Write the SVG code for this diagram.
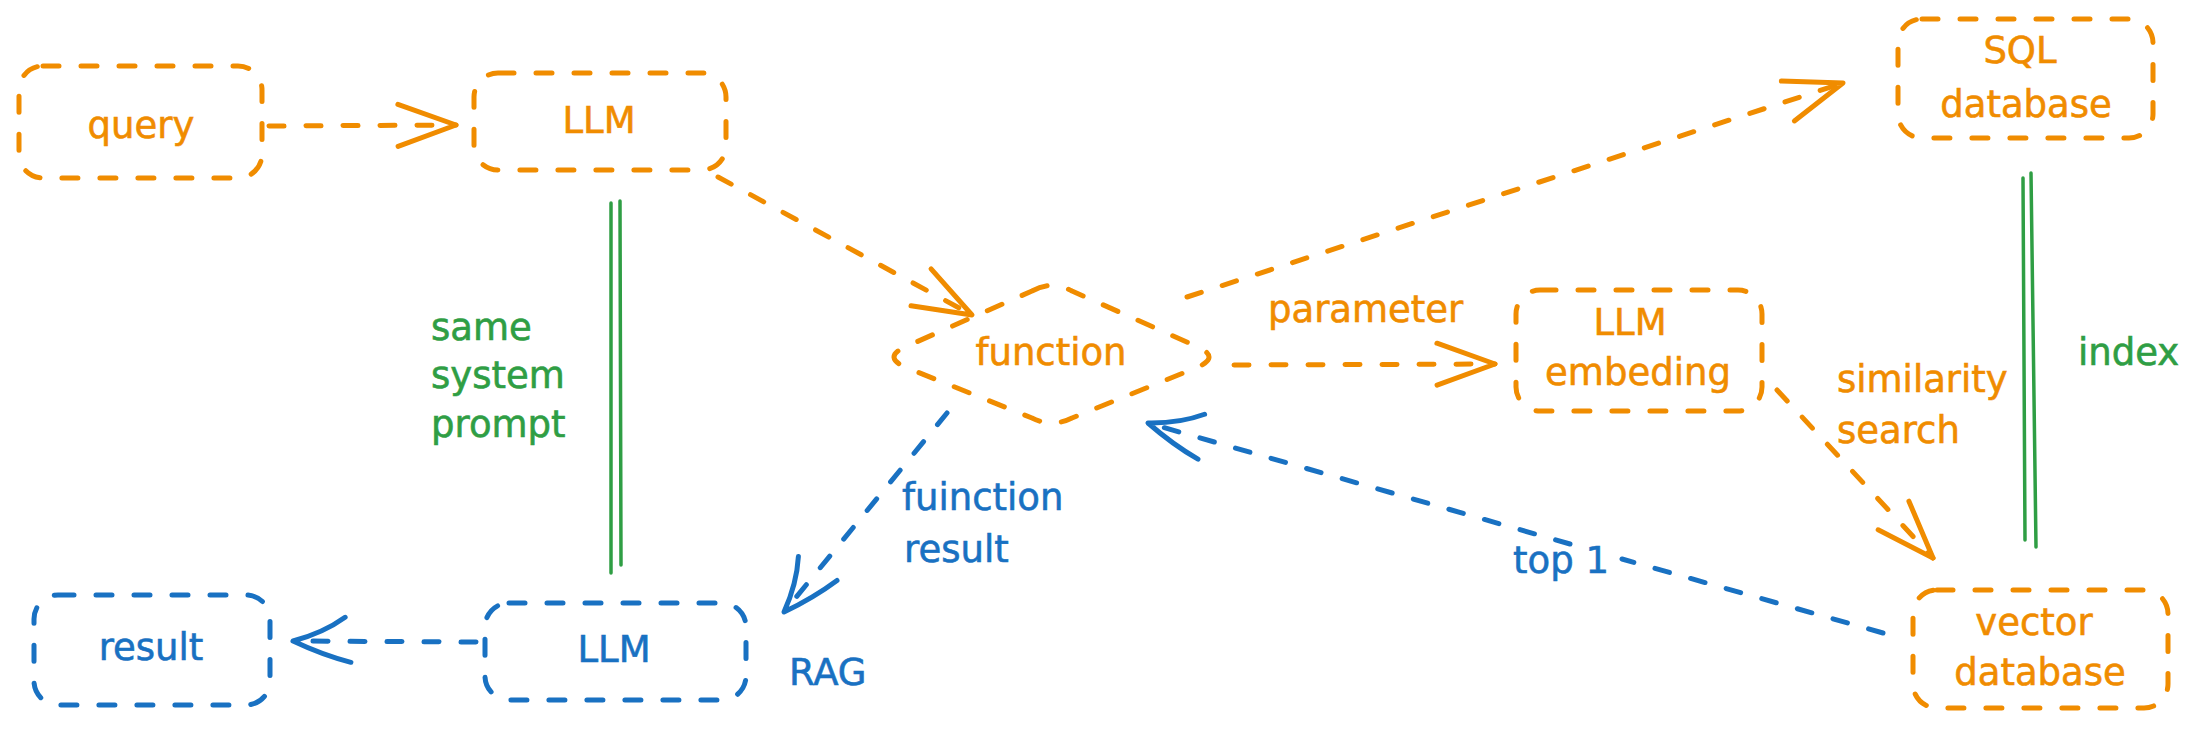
<svg xmlns="http://www.w3.org/2000/svg" width="2192" height="729" viewBox="0 0 2192 729">
<style>
.box{fill:none;stroke-width:5;stroke-dasharray:16 22;stroke-linecap:round;stroke-linejoin:round}
.o{stroke:#f08c00}
.b{stroke:#1971c2}
.g{stroke:#2f9e44;stroke-width:3.5;fill:none;stroke-linecap:round}
.conn{fill:none;stroke-width:5;stroke-dasharray:15 22;stroke-linecap:round}
text{font-family:"DejaVu Sans","Liberation Sans",sans-serif;font-size:37px;stroke-width:0.6}
.to{fill:#f08c00;stroke:#f08c00}
.tb{fill:#1971c2;stroke:#1971c2}
.tg{fill:#2f9e44;stroke:#2f9e44}
.c{text-anchor:middle}
</style>
<defs>
<marker id="ao" markerUnits="userSpaceOnUse" orient="auto" overflow="visible" refX="0" refY="0" markerWidth="1" markerHeight="1">
<path d="M-58,-21 L0,0 L-58,21" fill="none" stroke="#f08c00" stroke-width="5" stroke-linecap="round" stroke-linejoin="round"/>
</marker>
<marker id="ab" markerUnits="userSpaceOnUse" orient="auto" overflow="visible" refX="0" refY="0" markerWidth="1" markerHeight="1">
<path d="M-58,-21 Q-30,-14 0,0 Q-30,8 -52,24" fill="none" stroke="#1971c2" stroke-width="5" stroke-linecap="round" stroke-linejoin="round"/>
</marker>
</defs>
<rect width="2192" height="729" fill="#ffffff"/>

<g id="connectors">
<path class="conn o" d="M269,126 L456,125" marker-end="url(#ao)"/>
<path class="conn o" d="M718,177 L972,315" marker-end="url(#ao)"/>
<path class="conn o" d="M1187,297 L1843,83" marker-end="url(#ao)"/>
<path class="conn o" d="M1234,365 L1495,364" marker-end="url(#ao)"/>
<path class="conn o" d="M1777,390 L1933,558" marker-end="url(#ao)"/>
<path class="conn b" d="M1883,633 L1622,559 M1570,544 L1148,423" marker-end="url(#ab)"/>
<path class="conn b" d="M947,413 L784,612" marker-end="url(#ab)"/>
<path class="conn b" d="M476,642 L293,641" marker-end="url(#ab)"/>
<path class="g" d="M611,203 L611,573"/>
<path class="g" d="M620,201 L621,565"/>
<path class="g" d="M2023,178 L2025,540"/>
<path class="g" d="M2031,173 L2036,547"/>
</g>

<g id="query">
<rect class="box o" x="19" y="66" width="243" height="112" rx="24"/>
<text class="to c" x="141" y="138">query</text>
</g>
<g id="llm_top">
<rect class="box o" x="474" y="73" width="252" height="97" rx="24"/>
<text class="to c" x="599" y="133">LLM</text>
</g>
<g id="sql_database">
<rect class="box o" x="1898" y="19" width="255" height="119" rx="24"/>
<text class="to c" x="2020" y="63">SQL</text>
<text class="to c" x="2026" y="117">database</text>
</g>
<g id="function">
<path class="box o" d="M1032,291 Q1052,280 1072,291 L1198,347 Q1220,357 1198,367 L1072,418 Q1052,428 1032,418 L905,367 Q883,357 905,347 Z"/>
<text class="to c" x="1051" y="365">function</text>
</g>
<g id="llm_embeding">
<rect class="box o" x="1516" y="290" width="246" height="121" rx="24"/>
<text class="to c" x="1630" y="335">LLM</text>
<text class="to c" x="1638" y="385">embeding</text>
</g>
<g id="vector_database">
<rect class="box o" x="1913" y="590" width="255" height="118" rx="24"/>
<text class="to c" x="2034" y="635">vector</text>
<text class="to c" x="2040" y="685">database</text>
</g>
<g id="result">
<rect class="box b" x="34" y="595" width="236" height="110" rx="24"/>
<text class="tb c" x="151" y="660">result</text>
</g>
<g id="llm_bottom">
<rect class="box b" x="485" y="603" width="261" height="97" rx="24"/>
<text class="tb c" x="614" y="662">LLM</text>
</g>

<g id="labels">
<text class="tg" x="431" y="340">same</text>
<text class="tg" x="431" y="388">system</text>
<text class="tg" x="431" y="437">prompt</text>
<text class="tg" x="2078" y="365">index</text>
<text class="to" x="1268" y="322">parameter</text>
<text class="to" x="1837" y="392">similarity</text>
<text class="to" x="1837" y="443">search</text>
<text class="tb" x="1513" y="573">top 1</text>
<text class="tb" x="902" y="510">fuinction</text>
<text class="tb" x="904" y="562">result</text>
<text class="tb" x="789" y="685">RAG</text>
</g>
</svg>
